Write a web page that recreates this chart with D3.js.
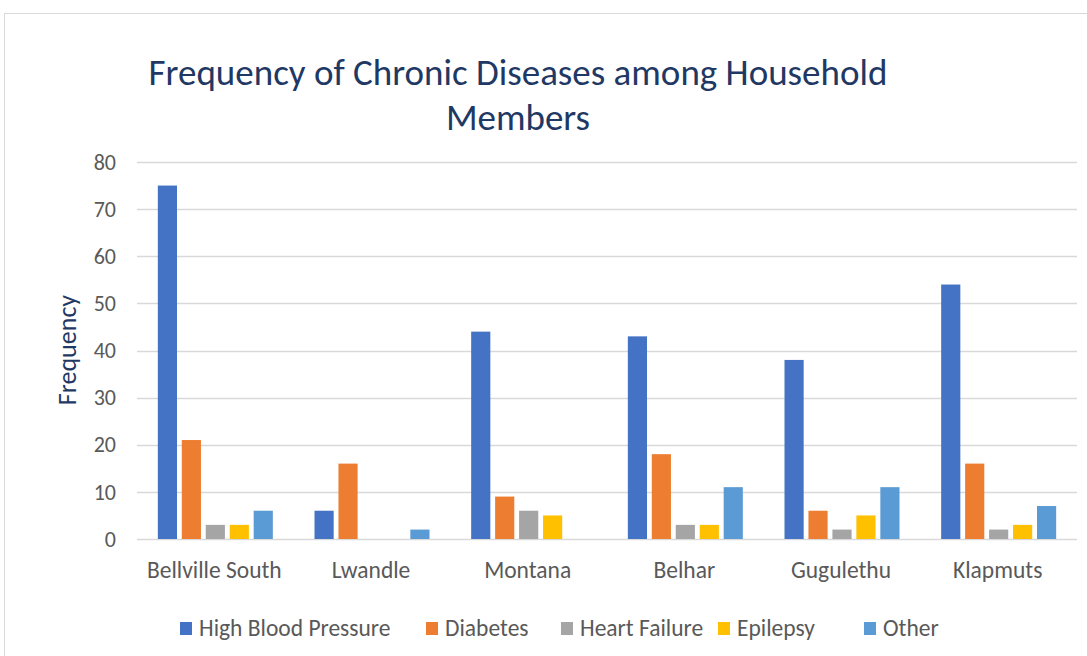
<!DOCTYPE html>
<html>
<head>
<meta charset="utf-8">
<script src="https://cdn.jsdelivr.net/npm/d3@7"></script>
<style>
  body { margin: 0; background: #fff; }
  svg { font-family: Carlito, "Open Sans", sans-serif; }
</style>
</head>
<body>
<div id="chart"></div>
<script>
// DATA
var places = ["Bellville South", "Lwandle", "Montana", "Belhar", "Gugulethu", "Klapmuts"];
var diseases = ["High Blood Pressure", "Diabetes", "Heart Failure", "Epilepsy", "Other"];
var highBloodPressure = [75, 6, 44, 43, 38, 54];
var diabetes = [21, 16, 9, 18, 6, 16];
var heartFailure = [3, 0, 6, 3, 2, 2];
var epilepsy = [3, 0, 5, 3, 5, 3];
var other = [6, 2, 0, 11, 11, 7];
var yTicks = [0, 10, 20, 30, 40, 50, 60, 70, 80];
var colors = ["#4472c4", "#ed7d31", "#a5a5a5", "#ffc000", "#5b9bd5"];

var series = [highBloodPressure, diabetes, heartFailure, epilepsy, other];

var width = 1087;
var height = 656;

var svg = d3.select("#chart")
    .append("svg")
    .attr("width", width)
    .attr("height", height);

// chart border
svg.append("rect")
    .attr("x", 4.5).attr("y", 13.5)
    .attr("width", width + 20).attr("height", height + 20)
    .attr("fill", "none")
    .attr("stroke", "#d9d9d9");

// SCALES
var x = d3.scaleBand()
    .domain(places)
    .range([137, 1077]);

var inner = d3.scaleBand()
    .domain(diseases)
    .range([0, 115])
    .paddingInner(0.2);

var y = d3.scaleLinear()
    .domain([0, 80])
    .range([539, 162]);

// gridlines
svg.append("g")
    .selectAll("line")
    .data(yTicks)
    .join("line")
    .attr("x1", 137).attr("x2", 1077)
    .attr("y1", function (d) { return Math.round(y(d)) + 0.5; })
    .attr("y2", function (d) { return Math.round(y(d)) + 0.5; })
    .attr("stroke", "#d9d9d9")
    .attr("stroke-width", 1.3);

// y tick labels
svg.append("g")
    .selectAll("text")
    .data(yTicks)
    .join("text")
    .attr("x", 116)
    .attr("y", function (d) { return y(d); })
    .attr("dy", "0.35em")
    .attr("text-anchor", "end")
    .attr("fill", "#595959")
    .style("font-size", "22px")
    .text(function (d) { return d; });

// bars
series.forEach(function (vals, i) {
    svg.append("g")
        .selectAll("rect")
        .data(vals)
        .join("rect")
        .attr("x", function (d, j) {
            return x(places[j]) + (x.bandwidth() - 115) / 2 + inner(diseases[i]);
        })
        .attr("y", function (d) { return y(d); })
        .attr("width", inner.bandwidth())
        .attr("height", function (d) { return y(0) - y(d); })
        .attr("fill", colors[i]);
});

// category labels
svg.append("g")
    .selectAll("text")
    .data(places)
    .join("text")
    .attr("x", function (d) { return x(d) + x.bandwidth() / 2 - 1; })
    .attr("y", 578)
    .attr("text-anchor", "middle")
    .attr("fill", "#595959")
    .style("font-size", "23.5px")
    .text(function (d) { return d; });

// title
svg.append("text")
    .attr("x", 518).attr("y", 85)
    .attr("text-anchor", "middle")
    .attr("fill", "#1f3864")
    .style("font-size", "37px")
    .text("Frequency of Chronic Diseases among Household");
svg.append("text")
    .attr("x", 518).attr("y", 130)
    .attr("text-anchor", "middle")
    .attr("fill", "#1f3864")
    .style("font-size", "37px")
    .text("Members");

// y axis title
svg.append("text")
    .attr("transform", "translate(76, 350) rotate(-90)")
    .attr("text-anchor", "middle")
    .attr("fill", "#1f3864")
    .style("font-size", "26px")
    .text("Frequency");

// legend
var legendX = [180, 426, 561, 718, 864];
var legend = svg.append("g")
    .selectAll("g")
    .data(diseases)
    .join("g")
    .attr("transform", function (d, i) { return "translate(" + legendX[i] + ", 628)"; });

legend.append("rect")
    .attr("x", 0).attr("y", -6)
    .attr("width", 12).attr("height", 13)
    .attr("fill", function (d, i) { return colors[i]; });

legend.append("text")
    .attr("x", 19)
    .attr("dy", "0.35em")
    .attr("fill", "#595959")
    .style("font-size", "23.5px")
    .text(function (d) { return d; });
</script>
</body>
</html>
